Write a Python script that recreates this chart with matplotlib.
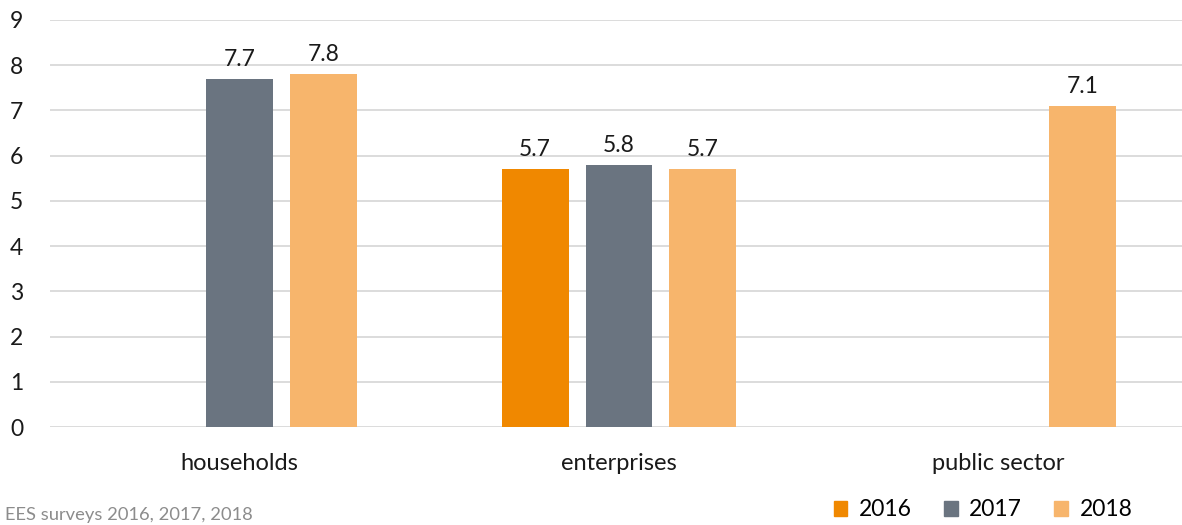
import matplotlib
matplotlib.use("Agg")
import matplotlib.pyplot as plt
import numpy as np

categories = ["households", "enterprises", "public sector"]
years = ["2016", "2017", "2018"]
values_2016 = [None, 5.7, None]
values_2017 = [7.7, 5.8, None]
values_2018 = [7.8, 5.7, 7.1]
colors = ["#F08800", "#6A7480", "#F7B56C"]
source_note = "EES surveys 2016, 2017, 2018"

plt.rcParams["font.family"] = ["Lato", "DejaVu Sans"]

fig = plt.figure(figsize=(11.82, 5.25), dpi=100)
ax = fig.add_axes([49.75 / 1182, 1 - 427 / 525, 1138.5 / 1182, 407 / 525])

x = np.arange(len(categories))
width = 0.176
step = 0.221
series = [values_2016, values_2017, values_2018]
for i, (yr, vals, c) in enumerate(zip(years, series, colors)):
    offs = (i - 1) * step
    xs = [xi + offs for xi, v in zip(x, vals) if v is not None]
    vs = [v for v in vals if v is not None]
    bars = ax.bar(xs, vs, width=width, color=c, label=yr, zorder=3)
    for b, v in zip(bars, vs):
        ax.text(b.get_x() + b.get_width() / 2, v + 0.2, f"{v:.1f}",
                ha="center", va="bottom", fontsize=16.5, color="#1a1a1a")

ax.set_xlim(-0.5, len(categories) - 0.5)
ax.set_ylim(0, 9)
ax.set_yticks(range(0, 10))
ax.yaxis.grid(True, color="#D9D9D9", linewidth=1.3, zorder=0)
ax.set_axisbelow(True)
for s in ax.spines.values():
    s.set_visible(False)
ax.tick_params(axis="both", length=0, colors="#1a1a1a")
ax.tick_params(axis="y", pad=19, labelsize=16.5)
ax.set_xticks(x)
ax.set_xticklabels(categories, fontsize=17)
ax.tick_params(axis="x", pad=19)

fig.text(0.5 / 118.2, 1 - 515 / 525, source_note, fontsize=13.2, color="#8C8C8C",
         ha="left", va="center")

handles = [plt.Rectangle((0, 0), 1, 1, color=c) for c in colors]
fig.legend(handles, years, loc="center", bbox_to_anchor=(983 / 1182, 1 - 510 / 525),
           ncol=3, frameon=False, fontsize=16.5, handlelength=0.6, handleheight=0.6,
           columnspacing=1.4, handletextpad=0.5)

fig.savefig("out.png", dpi=100)
